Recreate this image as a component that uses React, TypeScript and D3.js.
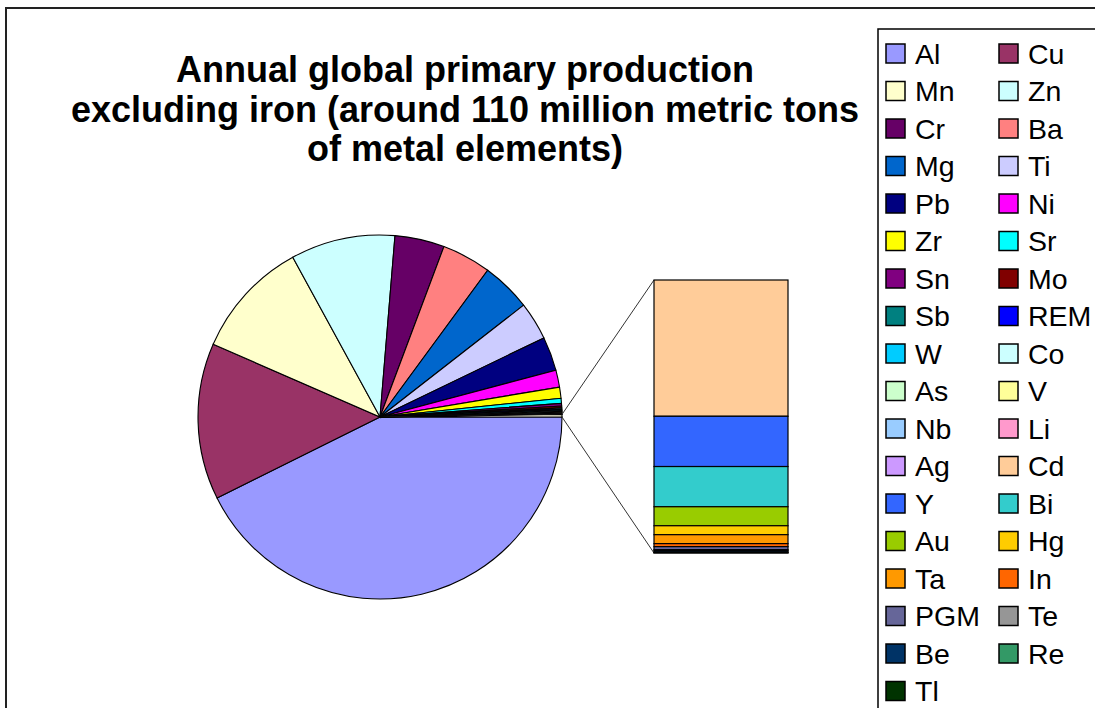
import React from "react";
import * as d3 from "d3";

// Primary production, thousand metric tons (approx.)
const pieNames = ["Al", "Cu", "Mn", "Zn", "Cr", "Ba", "Mg", "Ti", "Pb", "Ni", "Zr", "Sr", "Sn", "Mo", "Sb", "REM", "W", "Co", "As", "V", "Nb", "Li", "Ag"];
const pieValues = [46900, 15280, 11550, 10190, 4840, 4800, 4830, 3710, 3315, 1665, 1085, 490, 260, 180, 140, 110, 80, 70, 60, 55, 50, 35, 30];
const pieColors = ["#9999FF", "#993366", "#FFFFCC", "#CCFFFF", "#660066", "#FF8080", "#0066CC", "#CCCCFF", "#000080", "#FF00FF", "#FFFF00", "#00FFFF", "#800080", "#800000", "#008080", "#0000FF", "#00CCFF", "#CCFFFF", "#CCFFCC", "#FFFF99", "#99CCFF", "#FF99CC", "#CC99FF"];

// Minor metals, split out into the stacked bar
const barNames = ["Cd", "Y", "Bi", "Au", "Hg", "Ta", "In", "PGM", "Te", "Be", "Re", "Tl"];
const barValues = [122, 45, 36, 17, 8, 8, 2.7, 2.7, 1, 1.3, 0.5, 0.2];
const barColors = ["#FFCC99", "#3366FF", "#33CCCC", "#99CC00", "#FFCC00", "#FF9900", "#FF6600", "#666699", "#969696", "#003366", "#339966", "#003300"];

const otherColor = "#FFFFE0";

const titleLines = [
  "Annual global primary production",
  "excluding iron (around 110 million metric tons",
  "of metal elements)",
];

const W = 1095;
const H = 708;
const FONT = "'Liberation Sans', Arial, Helvetica, sans-serif";

export default function App() {
  const otherValue = d3.sum(barValues);
  const slices = pieNames.map((n, i) => ({ name: n, value: pieValues[i], color: pieColors[i] }));
  slices.push({ name: "Other", value: otherValue, color: otherColor });

  const cx = 380;
  const cy = 417;
  const r = 182;

  const pie = d3
    .pie<any>()
    .value((d: any) => d.value)
    .sort(null)
    .startAngle(Math.PI / 2)
    .endAngle(Math.PI / 2 + 2 * Math.PI);
  const arcs = pie(slices);
  const arcGen = d3.arc<any>().innerRadius(0).outerRadius(r);

  // stacked bar for the "Other" slice
  const barX = 654;
  const barW = 134;
  const barTop = 280;
  const barBottom = 553;
  const y = d3.scaleLinear().domain([0, otherValue]).range([barTop, barBottom]);
  let acc = 0;
  const segs = barNames.map((n, i) => {
    const s = { name: n, y0: acc, y1: acc + barValues[i], color: barColors[i] };
    acc += barValues[i];
    return s;
  });

  const otherArc = arcs[arcs.length - 1];
  const pt = (a: number) => [cx + r * Math.sin(a), cy - r * Math.cos(a)];
  const [ox0, oy0] = pt(otherArc.startAngle);
  const [ox1, oy1] = pt(otherArc.endAngle);

  // legend: two columns, row-major
  const legendItems = [
    ...pieNames.map((n, i) => ({ name: n, color: pieColors[i] })),
    ...barNames.map((n, i) => ({ name: n, color: barColors[i] })),
  ];
  const rowY = d3.scaleLinear().domain([0, 1]).range([53.5, 91]);
  const colX = [886, 999];
  const sw = 19;

  return (
    <svg
      width={W}
      height={H}
      style={{ position: "absolute", left: 0, top: 0, background: "#fff" }}
    >
      <rect x={0} y={0} width={W} height={H} fill="#fff" />
      <rect x={6} y={8} width={W + 20} height={H + 20} fill="#fff" stroke="#222" strokeWidth={2} />

      {titleLines.map((t, i) => (
        <text
          key={i}
          x={465}
          y={82 + i * 39.5}
          textAnchor="middle"
          fontFamily={FONT}
          fontWeight="bold"
          fontSize={36}
          fill="#000"
        >
          {t}
        </text>
      ))}

      <g transform={`translate(${cx},${cy})`}>
        {arcs.map((a, i) => (
          <path key={i} d={arcGen(a) as string} fill={a.data.color} stroke="#000" strokeWidth={1.1} />
        ))}
      </g>

      <line x1={ox0} y1={oy0} x2={barX} y2={barTop} stroke="#333" strokeWidth={1} />
      <line x1={ox1} y1={oy1} x2={barX} y2={barBottom} stroke="#333" strokeWidth={1} />

      {segs.map((s, i) => (
        <rect
          key={i}
          x={barX}
          y={y(s.y0)}
          width={barW}
          height={y(s.y1) - y(s.y0)}
          fill={s.color}
          stroke="#000"
          strokeWidth={1.2}
        />
      ))}

      <rect x={878} y={29} width={W} height={H} fill="#fff" stroke="#000" strokeWidth={1.5} />
      {legendItems.map((d, i) => {
        const row = Math.floor(i / 2);
        const col = i % 2;
        const yc = rowY(row);
        return (
          <g key={d.name}>
            <rect
              x={colX[col]}
              y={yc - sw / 2}
              width={sw}
              height={sw}
              fill={d.color}
              stroke="#000"
              strokeWidth={1.5}
            />
            <text
              x={colX[col] + 29}
              y={yc + 10}
              fontFamily={FONT}
              fontSize={28.5}
              fill="#000"
            >
              {d.name}
            </text>
          </g>
        );
      })}
    </svg>
  );
}
